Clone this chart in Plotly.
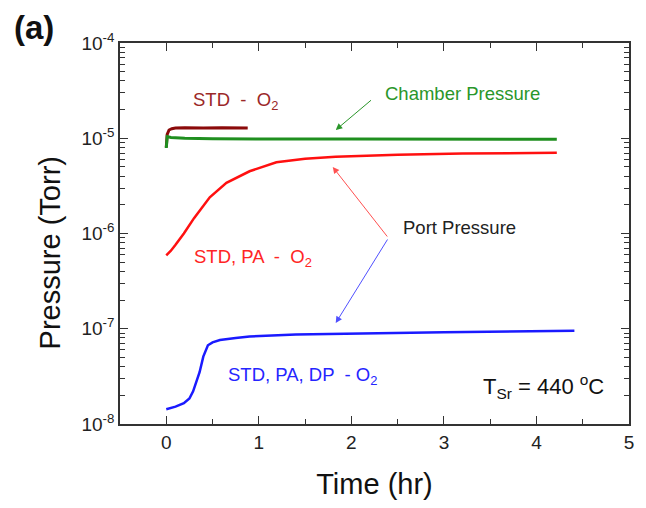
import plotly.graph_objects as go

# ---- data ----
t_std = [0.0, 0.01, 0.03, 0.06, 0.10, 0.20, 0.40, 0.60, 0.88]
p_std = [8.0e-6, 1.10e-5, 1.22e-5, 1.26e-5, 1.28e-5, 1.29e-5, 1.28e-5, 1.29e-5, 1.28e-5]

t_ch = [0.0, 0.01, 0.05, 0.2, 0.5, 1.0, 2.0, 3.0, 4.22]
p_ch = [7.9e-6, 1.04e-5, 1.02e-5, 1.0e-5, 9.9e-6, 9.8e-6, 9.8e-6, 9.8e-6, 9.75e-6]

t_pa = [0.0, 0.05, 0.10, 0.19, 0.30, 0.47, 0.65, 0.90, 1.19, 1.50, 1.83, 2.5, 3.2, 4.22]
p_pa = [5.9e-7, 6.6e-7, 7.6e-7, 1.0e-6, 1.45e-6, 2.4e-6, 3.4e-6, 4.5e-6, 5.6e-6, 6.1e-6, 6.4e-6, 6.7e-6, 6.9e-6, 7.05e-6]

t_dp = [0.0, 0.10, 0.19, 0.25, 0.29, 0.33, 0.36, 0.40, 0.45, 0.50, 0.58, 0.75, 0.90, 1.4, 1.97, 3.0, 4.41]
p_dp = [1.43e-8, 1.52e-8, 1.65e-8, 1.85e-8, 2.2e-8, 2.8e-8, 3.5e-8, 5.1e-8, 6.7e-8, 7.2e-8, 7.6e-8, 8.0e-8, 8.3e-8, 8.7e-8, 8.9e-8, 9.2e-8, 9.5e-8]

x_ticks = [0, 1, 2, 3, 4, 5]
y_ticks = [1e-8, 1e-7, 1e-6, 1e-5, 1e-4]
y_ticktext = ["10<sup>-8</sup>", "10<sup>-7</sup>", "10<sup>-6</sup>", "10<sup>-5</sup>", "10<sup>-4</sup>"]
y_minor = [m * 10.0 ** e for e in range(-8, -4) for m in range(2, 10)]

FONT = "Liberation Sans, Arial, sans-serif"

fig = go.Figure()
fig.add_trace(go.Scatter(x=t_std, y=p_std, mode="lines", line=dict(color="#8b0a0a", width=3), showlegend=False))
fig.add_trace(go.Scatter(x=t_ch, y=p_ch, mode="lines", line=dict(color="#1f8f1f", width=3), showlegend=False))
fig.add_trace(go.Scatter(x=t_pa, y=p_pa, mode="lines", line=dict(color="#ff1010", width=2.5), showlegend=False))
fig.add_trace(go.Scatter(x=t_dp, y=p_dp, mode="lines", line=dict(color="#1a1aff", width=2.5), showlegend=False))

ax_common = dict(showline=True, linecolor="#333", linewidth=1.5, mirror="ticks",
                 ticks="inside", ticklen=8, tickwidth=1.2, tickcolor="#333",
                 showgrid=False, zeroline=False)

fig.update_xaxes(range=[-0.5, 5], tickvals=x_ticks,
                 tickfont=dict(family=FONT, size=19, color="#222"),
                 minor=dict(ticks="inside", ticklen=5, tickwidth=1.2, tickcolor="#333", tickvals=[0.5, 1.5, 2.5, 3.5, 4.5]),
                 title=dict(text="Time (hr)", font=dict(family=FONT, size=29, color="#111"), standoff=22),
                 **ax_common)
fig.update_yaxes(type="log", range=[-8, -4], tickvals=y_ticks, ticktext=y_ticktext,
                 tickfont=dict(family=FONT, size=19, color="#222"),
                 minor=dict(ticks="inside", ticklen=5, tickwidth=1.2, tickcolor="#333", tickvals=y_minor),
                 **ax_common)

ann = []
# page-pixel coordinates of the plot area (browser adds 8px body margin)
W0, W1, H0, H1 = 120, 632, 43, 424
def px(xp):
    return (xp - W0) / (W1 - W0)
def py(yp):
    return (H1 - yp) / (H1 - H0)

def txt(x, y, s, color, size=18.5, bold=False, angle=0):
    ann.append(dict(x=px(x), y=py(y), xref="x domain", yref="y domain",
                    text=("<b>%s</b>" % s) if bold else s, showarrow=False,
                    xanchor="center", yanchor="middle", textangle=angle,
                    font=dict(family=FONT, size=size, color=color)))

txt(50, 253, "Pressure (Torr)", "#111", size=29, angle=-90)
txt(236, 101, "STD  -  O<sub>2</sub>", "#9b2828")
txt(465, 93, "Chamber Pressure", "#2a962a")
txt(462, 227, "Port Pressure", "#222")
txt(254, 258, "STD, PA  -  O<sub>2</sub>", "#ff2525")
txt(304, 376, "STD, PA, DP  - O<sub>2</sub>", "#2525ff")
txt(546, 386, "T<sub>Sr</sub> = 440 <sup>o</sup>C", "#111", size=22)
txt(33, 27, "(a)", "#111", size=33, bold=True)

def arrow(x0, y0, x1, y1, color):
    ann.append(dict(x=px(x1), y=py(y1), ax=px(x0), ay=py(y0), xref="x domain", yref="y domain",
                    axref="x domain", ayref="y domain", text="", showarrow=True,
                    arrowhead=2, arrowsize=1.3, arrowwidth=1, arrowcolor=color))

arrow(374, 99, 337, 130, "#2a962a")
arrow(390, 238, 334, 167, "#ff5050")
arrow(390, 238, 337, 323, "#5050ff")

fig.update_layout(width=638, height=500, plot_bgcolor="white", paper_bgcolor="white",
                  margin=dict(l=112, r=14, t=35, b=84), annotations=ann,
                  font=dict(family=FONT))
fig.write_html("out.html")
